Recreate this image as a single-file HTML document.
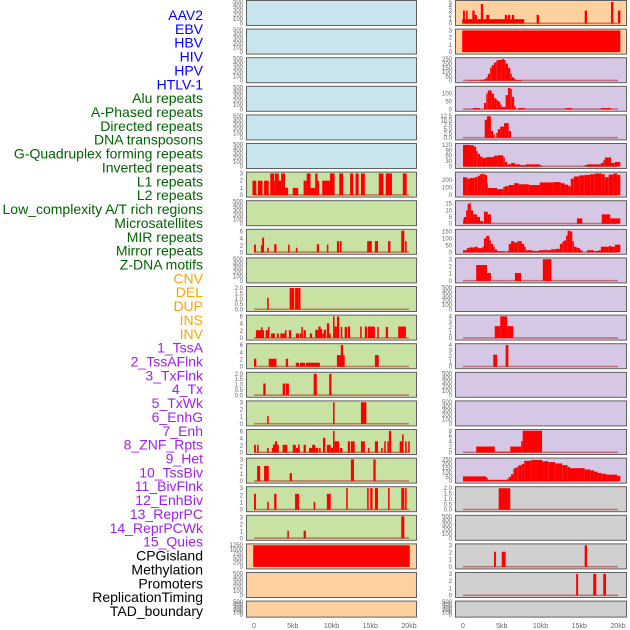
<!DOCTYPE html>
<html><head><meta charset="utf-8"><style>
html,body{margin:0;padding:0;background:#fff;}
svg{display:block;font-family:"Liberation Sans",sans-serif;}
</style></head><body>
<svg id="chart" width="630" height="630" viewBox="0 0 630 630" xmlns="http://www.w3.org/2000/svg"></svg>
<script>
const trackLabels = ["AAV2","EBV","HBV","HIV","HPV","HTLV-1","Alu repeats","A-Phased repeats","Directed repeats","DNA transposons","G-Quadruplex forming repeats","Inverted repeats","L1 repeats","L2 repeats","Low_complexity A/T rich regions","Microsatellites","MIR repeats","Mirror repeats","Z-DNA motifs","CNV","DEL","DUP","INS","INV","1_TssA","2_TssAFlnk","3_TxFlnk","4_Tx","5_TxWk","6_EnhG","7_Enh","8_ZNF_Rpts","9_Het","10_TssBiv","11_BivFlnk","12_EnhBiv","13_ReprPC","14_ReprPCWk","15_Quies","CPGisland","Methylation","Promoters","ReplicationTiming","TAD_boundary"];
const labelColors = ["#0000ff","#0000ff","#0000ff","#0000ff","#0000ff","#0000ff","#006400","#006400","#006400","#006400","#006400","#006400","#006400","#006400","#006400","#006400","#006400","#006400","#006400","#ffa500","#ffa500","#ffa500","#ffa500","#ffa500","#a020f0","#a020f0","#a020f0","#a020f0","#a020f0","#a020f0","#a020f0","#a020f0","#a020f0","#a020f0","#a020f0","#a020f0","#a020f0","#a020f0","#a020f0","#000000","#000000","#000000","#000000","#000000"];
const xTickValues = [0,5,10,15,20];
const xTickLabels = ["0","5kb","10kb","15kb","20kb"];
const ticks500 = [0,100,200,300,400,500];
const ticks3 = [0,1,2,3];
const ticks6 = [0,2,4,6];
const ticks2 = [0,0.5,1,1.5,2];
const ticks2Labels = ["0.0","0.5","1.0","1.5","2.0"];
const ticks4 = [0,1,2,3,4];

// left column segments [startKb, endKb, value]
const segL1 = [[-0.2,0.3,2],[0.5,1.1,2],[1.3,1.9,2],[2.1,2.6,3],[2.6,3.5,2],[2.7,3.2,3],[3.5,4.0,3],[4.0,4.4,1],[5.0,5.7,1],[6.4,6.8,2],[6.8,7.3,3],[7.3,7.9,1],[7.9,8.2,3],[8.2,8.4,2],[8.8,9.8,2],[9.8,10.4,3],[11.0,11.5,3],[12.4,12.8,3],[13.1,13.5,3],[13.8,14.3,3],[16.1,16.7,3],[17.0,17.8,3],[19.2,19.7,3]];
const segMIR = [[0,0.25,2.2],[0.9,1.1,2],[1.05,1.3,4.2],[1.7,1.9,1.3],[2.6,2.9,2.3],[4.4,4.6,2.2],[5.4,5.6,1.3],[8.1,8.4,2.3],[9.4,9.6,2.2],[10.7,11.0,3.2],[11.1,11.3,3.2],[14.6,15.2,3.2],[15.6,16.0,3.2],[17.3,17.6,3.2],[19.0,19.4,6.2],[19.5,19.7,3.2]];
const segDEL = [[1.7,1.9,1.1],[4.6,5.2,2],[5.3,5.7,2],[5.7,6.0,2]];
const segINS = [[0.25,1.3,2.2],[0.9,1.1,3],[1.5,1.9,2.2],[1.8,2.0,3.1],[2.2,2.7,1.3],[2.95,3.2,1.3],[3.4,4.0,1.3],[4.0,4.2,2.2],[4.5,4.8,2.2],[5.4,5.8,1.3],[5.9,6.1,1.3],[6.1,6.3,3.1],[6.4,6.7,2.2],[7.2,7.5,1.3],[7.9,8.3,2.3],[8.3,8.6,3.2],[8.5,8.8,2.5],[8.8,9.0,1.3],[9.0,9.3,2.3],[9.4,9.7,4.1],[9.7,9.9,1.3],[10.2,10.4,6],[10.4,10.7,3.2],[10.7,11.0,6],[11.2,11.4,3.1],[11.7,12.0,3.1],[12.1,12.4,3.2],[13.7,13.9,3.2],[14.3,14.6,3.2],[14.7,15.6,3.2],[15.9,16.1,3.1],[17.0,17.3,3.1],[18.6,19.6,3.2]];
const segTssA = [[0,0.3,2.2],[1.9,2.9,2.2],[4.1,4.4,2.2],[5.4,5.8,1.1],[5.9,6.6,1.1],[6.7,8.5,1.1],[10.7,11.7,3.2],[11.2,11.5,6],[15.6,16.1,3.2]];
const segTxFlnk = [[1.2,1.5,1.1],[3.7,4.0,1.1],[4.1,4.5,1.1],[7.7,8.1,2],[9.7,10.0,2]];
const segTxWk = [[1.7,1.9,1.1],[10.2,10.4,3],[13.8,14.5,3]];
const segEnh = [[0,0.25,2.2],[0.4,0.6,2.2],[1.7,1.9,1.3],[2.3,2.7,1.3],[2.45,2.7,2.3],[2.7,3.0,3.2],[2.7,3.1,1.3],[2.95,3.2,2.2],[3.7,4.3,2.2],[5.0,5.4,2.2],[5.4,5.9,1.3],[5.7,5.9,2.3],[6.4,6.7,2.2],[7.1,7.6,1.3],[7.5,7.9,2.2],[7.9,8.3,1.3],[8.4,8.6,1.3],[8.9,9.2,4.2],[9.4,9.9,2.2],[9.9,10.2,1.3],[10.2,10.4,6.2],[10.4,11.0,3.2],[11.1,11.4,1.3],[12.1,12.4,3.2],[12.5,13.0,3.2],[13.8,14.3,3.2],[14.7,14.9,1.3],[15.6,16.0,3.2],[16.4,16.6,1.3],[16.8,17.0,3.2],[17.2,17.4,3.2],[17.4,17.7,6.2],[18.8,19.2,3.2],[19.1,19.3,5.2],[19.5,19.7,3.2],[19.9,20.1,3.2]];
const segHet = [[0.4,0.8,2.1],[1.3,1.9,2.1],[4.6,4.9,1.1],[12.5,12.9,3],[15.4,15.7,3]];
const segBivFlnk = [[0,0.25,2.2],[1.7,1.9,1.1],[2.6,2.9,2.2],[5.3,5.8,2.2],[7.7,7.9,1.1],[9.4,9.9,2.2],[11.9,12.1,3],[14.6,14.8,3],[15.0,15.3,3],[15.6,16.0,3],[17.3,17.5,3],[19.0,19.4,3],[19.5,19.7,3]];
const segReprPC = [[4.3,4.5,1.1],[6.4,6.7,1.1],[19.0,19.4,3.2]];
const segCpg = [[-0.1,20.1,1230]];
// right column segments
const segEBV = [[-0.1,7.9,1],[0,0.25,3],[0.4,0.6,3],[1.2,1.5,3],[1.5,1.8,2],[2.3,2.6,4.5],[3.0,3.4,2],[5.4,5.7,2],[5.8,6.1,2],[6.3,6.6,2],[9.5,9.8,2],[15.7,16.0,3],[19.1,19.4,5],[20.0,20.3,3]];
const segHIV = [[-0.1,20.3,3]];
const segHTLV = [[0.6,2.2,5],[2.2,2.7,10],[2.7,3.0,20],[3.0,3.2,40],[3.2,3.5,80],[3.5,3.7,150],[3.7,4.0,180],[4.0,4.3,210],[4.3,4.5,235],[4.5,5.0,240],[5.0,5.3,250],[5.3,5.5,240],[5.5,5.8,200],[5.8,6.1,150],[6.1,6.3,80],[6.3,6.6,40],[6.6,6.8,20],[6.8,7.6,8]];
const segAPhased = [[1.3,2.2,8],[2.7,3.0,40],[3.0,3.2,100],[3.2,3.7,120],[3.7,4.0,100],[4.0,4.3,70],[4.3,4.5,60],[4.5,4.8,50],[4.8,5.0,30],[5.0,5.5,15],[5.5,5.8,90],[5.8,6.1,135],[6.1,6.3,130],[6.3,6.6,80],[6.6,6.8,20],[7.1,8.0,8],[13.2,14.1,8],[17.8,19.1,8]];
const segDNA = [[2.8,3.1,10.5],[3.1,3.6,12.5],[3.6,3.9,4],[3.9,4.1,2],[4.3,4.5,3],[4.5,4.8,5],[4.8,5.3,6.5],[5.3,5.9,8.5],[5.9,6.2,4]];
const segInverted = [[0,0.9,120],[0.9,1.4,118],[1.4,1.7,110],[1.7,1.9,85],[1.9,2.2,70],[2.2,2.5,55],[2.5,3.0,48],[3.0,4.0,52],[4.0,4.5,60],[4.5,5.2,62],[5.2,5.4,50],[5.4,5.7,25],[5.7,6.2,12],[6.2,6.7,20],[6.7,7.4,12],[7.4,8.1,8],[8.1,9.9,12],[9.9,10.2,6],[15.7,16.0,8],[16.0,17.8,12],[17.8,18.1,20],[18.1,18.3,35],[18.3,19.1,50],[19.1,19.6,20],[19.6,20.3,25]];
const segL2 = [[0,0.4,240],[0.4,0.6,235],[0.6,0.9,220],[0.9,1.5,230],[1.5,1.9,240],[1.9,2.2,260],[2.2,2.5,280],[2.5,2.8,285],[2.8,3.1,270],[3.1,3.2,160],[3.2,4.4,95],[4.4,5.2,80],[5.2,5.4,110],[5.4,5.9,120],[5.9,6.6,135],[6.6,7.2,160],[7.2,8.5,145],[8.5,9.9,135],[9.9,11.7,170],[11.7,12.6,175],[12.6,13.1,160],[13.1,13.6,140],[13.6,13.9,120],[13.9,14.3,220],[14.3,15.0,250],[15.0,15.7,265],[15.7,16.4,270],[16.4,17.0,280],[17.0,17.9,290],[17.9,18.3,280],[18.3,18.8,240],[18.8,19.4,275],[19.4,19.9,290],[19.9,20.3,270]];
const segLowComplex = [[0,0.1,3],[0.1,0.4,5],[0.4,0.6,10],[0.6,0.9,15],[0.9,1.0,16],[1.0,1.3,10],[1.3,1.8,7],[1.8,2.2,5],[2.2,2.6,2],[2.7,3.2,9],[3.2,3.6,7],[14.7,15.4,4],[17.9,19.0,7],[19.0,20.3,4]];
const segMicrosat = [[0,0.5,15],[0.5,0.8,30],[0.8,1.5,35],[1.5,1.9,40],[1.9,2.5,30],[2.5,2.7,40],[2.7,3.0,100],[3.0,3.4,118],[3.4,3.6,85],[3.6,3.9,60],[3.9,4.1,40],[4.1,4.4,20],[4.4,5.4,8],[5.6,5.9,8],[5.9,6.2,60],[6.2,6.6,80],[6.6,7.0,70],[7.0,7.2,80],[7.2,7.6,80],[7.6,7.9,60],[7.9,8.1,40],[8.1,9.0,15],[9.0,9.8,10],[9.8,10.6,15],[10.6,10.8,20],[10.8,11.4,15],[11.4,11.6,25],[11.6,11.9,20],[11.9,12.5,25],[12.5,12.8,60],[12.8,13.0,75],[13.0,13.3,85],[13.3,13.5,120],[13.5,13.8,155],[13.8,14.1,150],[14.1,14.3,80],[14.3,14.6,40],[14.6,14.8,35],[14.8,15.1,30],[15.1,15.4,15],[16.0,16.9,15],[17.0,17.5,10],[17.5,17.8,15],[17.8,18.8,40],[18.8,19.1,45],[19.1,19.6,40],[19.6,20.3,55]];
const segMirror = [[1.7,3.1,2.2],[3.1,3.6,1.1],[6.7,7.5,1.1],[10.3,11.4,3]];
const segDUP = [[4.1,4.8,2.2],[4.8,5.7,4],[5.7,6.5,2.2]];
const segINV = [[3.9,4.4,2.2],[5.5,5.85,4]];
const segEnhG = [[1.7,4.1,2.2],[4.1,6.1,0.3],[6.1,7.5,2.2],[7.5,7.7,4.2],[7.7,10.2,8]];
const segZNF = [[0,3.0,55],[3.0,3.2,40],[3.2,5.7,15],[5.7,5.9,25],[5.9,6.2,50],[6.2,6.5,80],[6.5,6.7,145],[6.7,7.0,155],[7.0,7.2,170],[7.2,7.6,185],[7.6,7.9,200],[7.9,8.8,235],[8.8,10.2,245],[10.2,11.0,230],[11.0,11.9,220],[11.9,12.8,205],[12.8,13.5,185],[13.5,13.8,165],[13.8,15.7,150],[15.7,16.4,135],[16.4,16.9,125],[16.9,17.4,110],[17.4,17.9,95],[17.9,18.5,85],[18.5,19.9,75],[19.9,20.3,60]];
const segTssBiv = [[4.6,6.1,2]];
const segCpgR = [[4.0,4.25,2.1],[5.0,5.5,2.1],[15.7,16.0,3]];
const segPromoters = [[14.6,14.85,3],[16.8,17.2,3],[18.1,18.45,3]];

const BLUE="#c8e4ec", GREEN="#c8e2a4", ORANGE="#ffd1a0", LAV="#d6c8e4", GRAY="#d0d0d0";
const panels = [
 // left column
 {c:0,r:0,bg:BLUE,ymax:500,t:ticks500,s:null,n:"aav2"},
 {c:0,r:1,bg:BLUE,ymax:500,t:ticks500,s:null,n:"hbv"},
 {c:0,r:2,bg:BLUE,ymax:500,t:ticks500,s:null,n:"hpv"},
 {c:0,r:3,bg:BLUE,ymax:500,t:ticks500,s:null,n:"alu"},
 {c:0,r:4,bg:BLUE,ymax:500,t:ticks500,s:null,n:"directed"},
 {c:0,r:5,bg:BLUE,ymax:500,t:ticks500,s:null,n:"g-quadruplex"},
 {c:0,r:6,bg:GREEN,ymax:3.05,t:ticks3,s:segL1,n:"l1"},
 {c:0,r:7,bg:GREEN,ymax:500,t:ticks500,s:null,n:"low-complexity"},
 {c:0,r:8,bg:GREEN,ymax:6.3,t:ticks6,s:segMIR,n:"mir"},
 {c:0,r:9,bg:GREEN,ymax:500,t:ticks500,s:null,n:"z-dna"},
 {c:0,r:10,bg:GREEN,ymax:2.05,t:ticks2,tl:ticks2Labels,s:segDEL,n:"del"},
 {c:0,r:11,bg:GREEN,ymax:6.1,t:ticks6,s:segINS,n:"ins"},
 {c:0,r:12,bg:GREEN,ymax:6.1,t:ticks6,s:segTssA,n:"tssa"},
 {c:0,r:13,bg:GREEN,ymax:2.05,t:ticks2,tl:ticks2Labels,s:segTxFlnk,n:"txflnk"},
 {c:0,r:14,bg:GREEN,ymax:3.05,t:ticks3,s:segTxWk,n:"txwk"},
 {c:0,r:15,bg:GREEN,ymax:6.3,t:ticks6,s:segEnh,n:"enh"},
 {c:0,r:16,bg:GREEN,ymax:3.05,t:ticks3,s:segHet,n:"het"},
 {c:0,r:17,bg:GREEN,ymax:3.05,t:ticks3,s:segBivFlnk,n:"bivflnk"},
 {c:0,r:18,bg:GREEN,ymax:3.2,t:ticks3,s:segReprPC,n:"reprpc"},
 {c:0,r:19,bg:ORANGE,ymax:1250,t:[0,250,500,750,1000,1250],s:segCpg,n:"quies",nb:true},
 {c:0,r:20,bg:ORANGE,ymax:500,t:ticks500,s:null,n:"methylation"},
 {c:0,r:21,bg:ORANGE,ymax:500,t:ticks500,s:null,n:"replication-timing",h:16},
 // right column
 {c:1,r:0,bg:ORANGE,ymax:5.1,t:[0,1,2,3,4,5],s:segEBV,n:"ebv"},
 {c:1,r:1,bg:ORANGE,ymax:3.05,t:ticks3,s:segHIV,n:"hiv",nb:true},
 {c:1,r:2,bg:LAV,ymax:255,t:[0,50,100,150,200,250],s:segHTLV,n:"htlv"},
 {c:1,r:3,bg:LAV,ymax:140,t:[0,50,100],s:segAPhased,n:"a-phased"},
 {c:1,r:4,bg:LAV,ymax:12.7,t:[0,2.5,5,7.5,10,12.5],tl:["0.0","2.5","5.0","7.5","10.0","12.5"],s:segDNA,n:"dna-transposons"},
 {c:1,r:5,bg:LAV,ymax:122,t:[0,30,60,90,120],s:segInverted,n:"inverted"},
 {c:1,r:6,bg:LAV,ymax:295,t:[0,100,200],s:segL2,n:"l2"},
 {c:1,r:7,bg:LAV,ymax:16.5,t:[0,5,10,15],s:segLowComplex,n:"microsatellites"},
 {c:1,r:8,bg:LAV,ymax:158,t:[0,50,100,150],s:segMicrosat,n:"mirror"},
 {c:1,r:9,bg:LAV,ymax:3.05,t:ticks3,s:segMirror,n:"cnv"},
 {c:1,r:10,bg:LAV,ymax:500,t:ticks500,s:null,n:"dup"},
 {c:1,r:11,bg:LAV,ymax:4.05,t:ticks4,s:segDUP,n:"inv"},
 {c:1,r:12,bg:LAV,ymax:4.05,t:ticks4,s:segINV,n:"tssaflnk"},
 {c:1,r:13,bg:LAV,ymax:500,t:ticks500,s:null,n:"tx"},
 {c:1,r:14,bg:LAV,ymax:500,t:ticks500,s:null,n:"enhg"},
 {c:1,r:15,bg:LAV,ymax:8.1,t:[0,2,4,6,8],s:segEnhG,n:"znf-rpts"},
 {c:1,r:16,bg:LAV,ymax:255,t:[0,50,100,150,200,250],s:segZNF,n:"tssbiv"},
 {c:1,r:17,bg:GRAY,ymax:2.05,t:ticks2,tl:ticks2Labels,s:segTssBiv,n:"enhbiv"},
 {c:1,r:18,bg:GRAY,ymax:500,t:ticks500,s:null,n:"reprpcwk"},
 {c:1,r:19,bg:GRAY,ymax:3.05,t:ticks3,s:segCpgR,n:"cpgisland"},
 {c:1,r:20,bg:GRAY,ymax:3.05,t:ticks3,s:segPromoters,n:"promoters"},
 {c:1,r:21,bg:GRAY,ymax:500,t:ticks500,s:null,n:"tad-boundary",h:16}
];

const NS="http://www.w3.org/2000/svg";
const svg=document.getElementById('chart');
function mk(tag,attrs,parent){const e=document.createElementNS(NS,tag);for(const k in attrs)e.setAttribute(k,attrs[k]);(parent||svg).appendChild(e);return e;}
const colX0=[246,455], colX1=[416,626], zeroX=[254,463], PXKB=7.75, ROW=28.6;
function xScale(c,kb){return zeroX[c]+kb*PXKB;}

// labels
trackLabels.forEach((lab,i)=>{
  const t=mk('text',{x:203,y:20+i*13.86,'text-anchor':'end','font-size':'14',fill:labelColors[i]});
  
  
  t.textContent=lab;
});

panels.forEach(p=>{
  const h=p.h||25, top=p.r*ROW, x0=colX0[p.c], x1=colX1[p.c];
  const g=mk('g',{});
  
  
  function yScale(v){return top+h-1.5-v/p.ymax*(h-3);}
  const bg=mk('rect',{x:x0+0.5,y:top+0.5,width:x1-x0,height:h,fill:p.bg,stroke:'#606060','stroke-width':1},g);
  
  
  if(p.s){
    if(!p.nb){
      const bl=mk('rect',{x:xScale(p.c,0),y:yScale(0)-1,width:20*PXKB,height:1.6,fill:'rgba(170,0,0,0.45)'},g);
      
      
    }
    p.s.forEach(sg=>{
      const xa=xScale(p.c,sg[0]), xb=xScale(p.c,sg[1]), ya=yScale(sg[2]), yb=yScale(0);
      const b=mk('rect',{x:xa,y:ya,width:Math.max(0.8,xb-xa),height:Math.max(0,yb-ya),fill:'#ff0000'},g);
      
      
    });
  }
  p.t.forEach((tv,i)=>{
    const lab=p.tl?p.tl[i]:String(tv);
    const tt=mk('text',{x:x0-3,y:yScale(tv)+2,'text-anchor':'end','font-size':'6',fill:'#666'},g);
    
    
    tt.textContent=lab;
  });
});

[0,1].forEach(c=>{
  xTickValues.forEach((v,i)=>{
    const t=mk('text',{x:xScale(c,v),y:628,'text-anchor':'middle','font-size':'7',fill:'#666'});
    
    
    t.textContent=xTickLabels[i];
  });
});
</script>
</body></html>
